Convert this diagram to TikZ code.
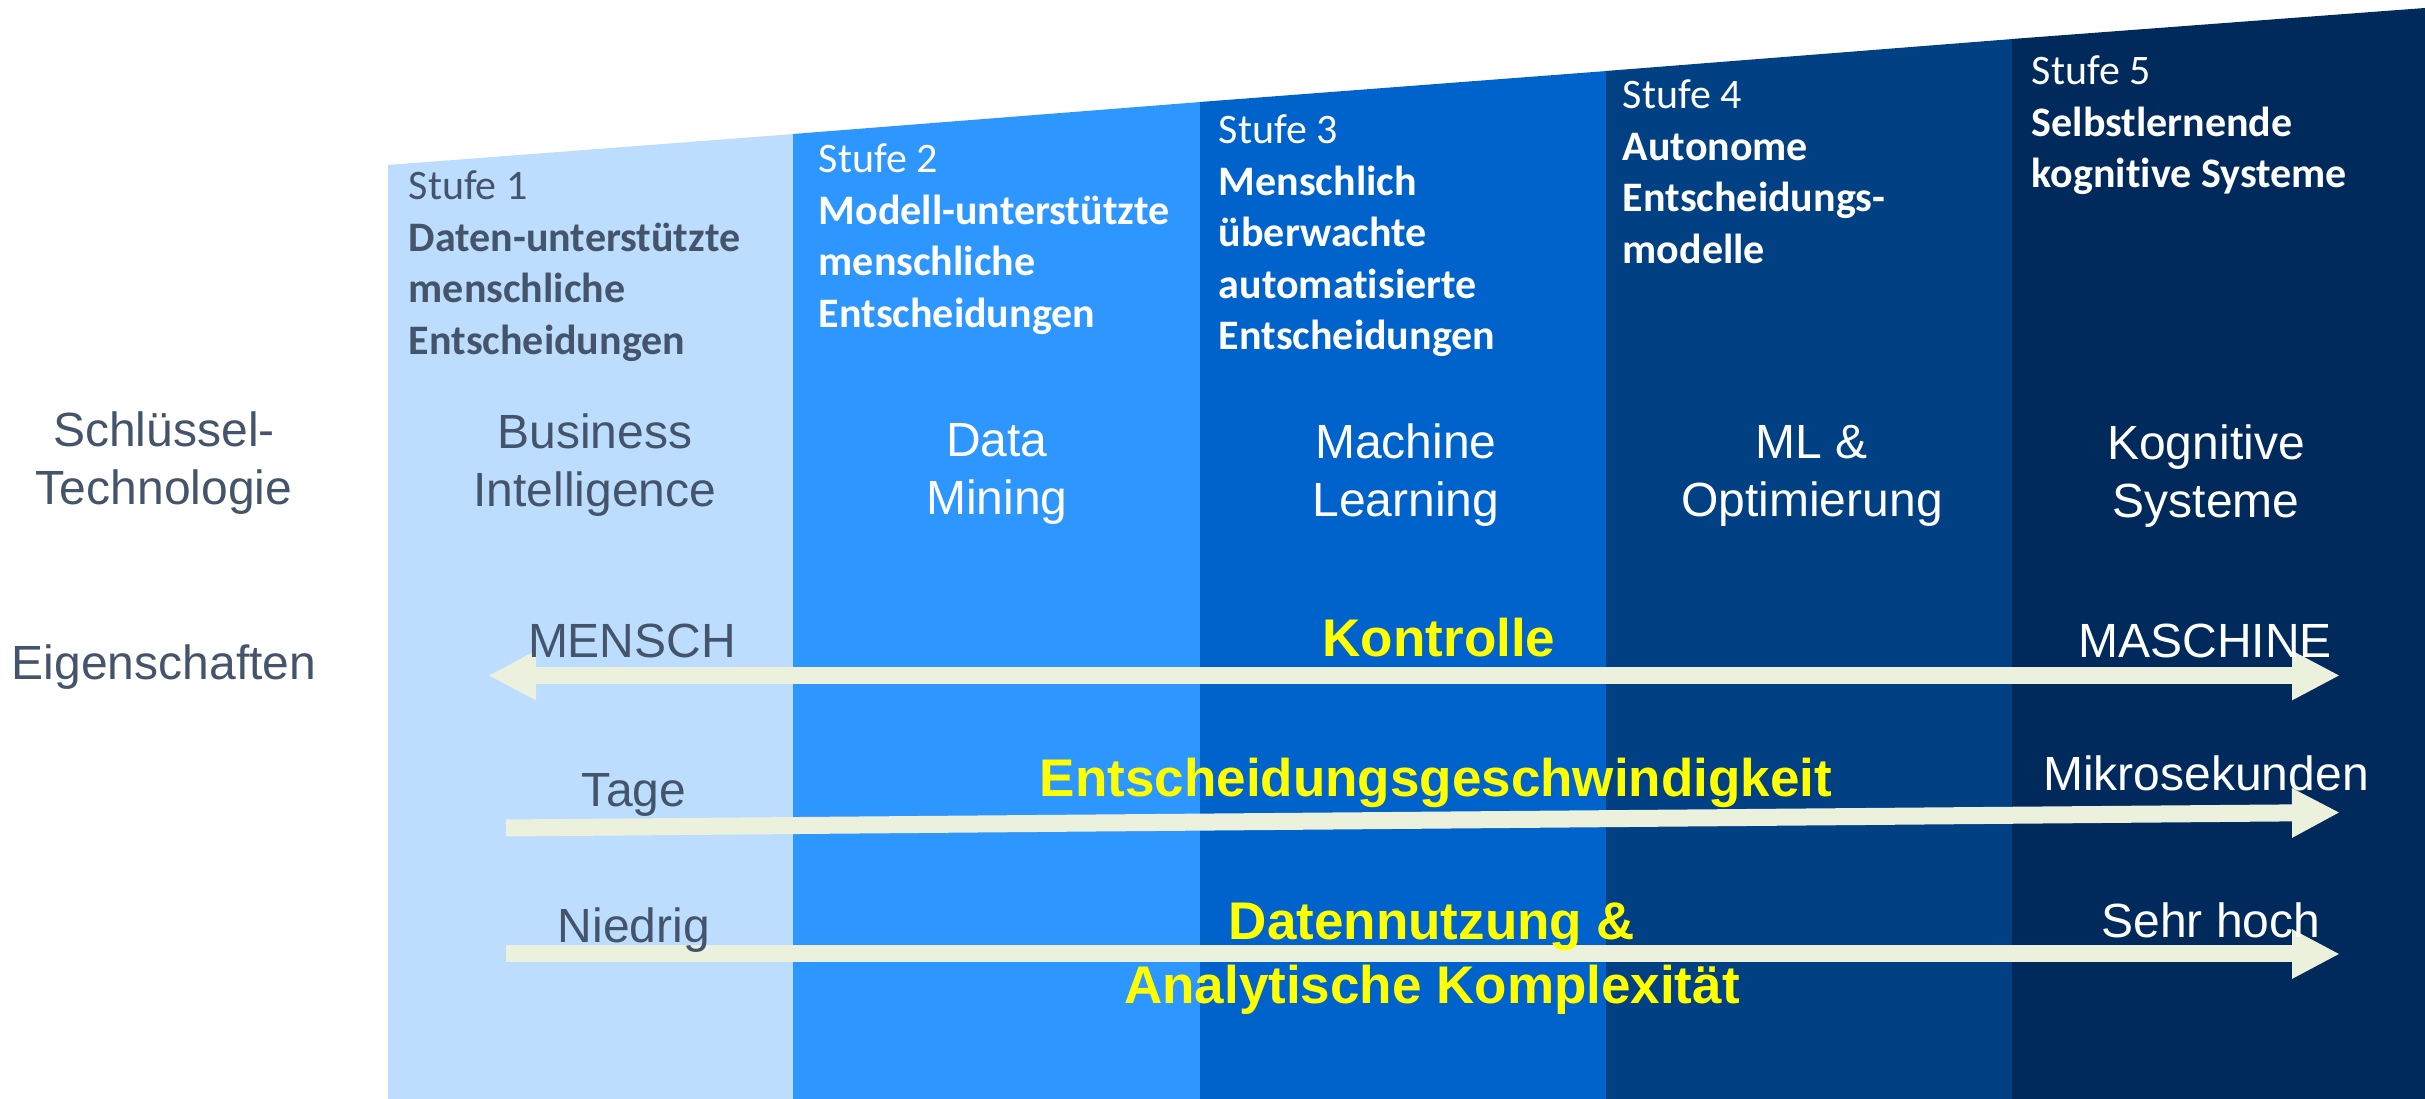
\documentclass[tikz,border=0pt]{standalone}
\usepackage{fontspec}
\setmainfont{Liberation Sans}
\newfontfamily\calibri[Ligatures=NoCommon]{Carlito}
\usetikzlibrary{arrows.meta}
\definecolor{cA}{RGB}{189,221,254}
\definecolor{cB}{RGB}{46,150,255}
\definecolor{cC}{RGB}{0,99,203}
\definecolor{cD}{RGB}{0,64,131}
\definecolor{cE}{RGB}{0,42,92}
\definecolor{darktext}{RGB}{68,84,106}
\definecolor{arrowc}{RGB}{235,241,220}
\definecolor{yel}{RGB}{255,255,0}
\newcommand\tabL[1]{\begin{tabular}[t]{@{}l@{}}#1\end{tabular}}
\newcommand\tabC[1]{\begin{tabular}[t]{@{}c@{}}#1\end{tabular}}
\begin{document}
\begin{tikzpicture}[x=0.25pt,y=-0.25pt,
  >={Triangle[length=12pt,width=11.5pt]},
  stufe/.style={anchor=base west, inner sep=0pt, text=white, font=\calibri\fontsize{10.5}{12.85}\selectfont},
  tech/.style={anchor=base, inner sep=0pt, text=white, font=\fontsize{12}{14.5}\selectfont},
  axislabel/.style={anchor=base, inner sep=0pt, text=yel, font=\bfseries\fontsize{13.25}{16}\selectfont},
  band/.style={line width=4.25pt, draw=arrowc}]
\useasboundingbox (0,0) rectangle (2425,1099);
% columns
\fill[cA] (388,165) -- (794,134) -- (794,1099) -- (388,1099) -- cycle;
\fill[cB] (793,134) -- (1201,102) -- (1201,1099) -- (793,1099) -- cycle;
\fill[cC] (1200,102) -- (1607,71) -- (1607,1099) -- (1200,1099) -- cycle;
\fill[cD] (1606,71) -- (2013,39) -- (2013,1099) -- (1606,1099) -- cycle;
\fill[cE] (2012,39) -- (2425,8) -- (2425,1099) -- (2012,1099) -- cycle;
% arrows (under the texts)
\coordinate (a1l) at (488,675.5);
\coordinate (a1r) at (2340,675.5);
\coordinate (a2l) at (506,828);
\coordinate (a2r) at (2340,812.5);
\coordinate (a3l) at (506,954);
\coordinate (a3r) at (2340,954);
\draw[band, <->] (a1l) -- (a1r);
\draw[band, ->] (a2l) -- (a2r);
\draw[band, ->] (a3l) -- (a3r);
% stage headers
\node[stufe, text=darktext] (s1) at (408,200) {\tabL{Stufe 1\\\textbf{Daten-unterstützte}\\\textbf{menschliche}\\\textbf{Entscheidungen}}};
\node[stufe] (s2) at (818,173) {\tabL{Stufe 2\\\textbf{Modell-unterstützte}\\\textbf{menschliche}\\\textbf{Entscheidungen}}};
\node[stufe] (s3) at (1218,144) {\tabL{Stufe 3\\\textbf{Menschlich}\\\textbf{überwachte}\\\textbf{automatisierte}\\\textbf{Entscheidungen}}};
\node[stufe] (s4) at (1622,109) {\tabL{Stufe 4\\\textbf{Autonome}\\\textbf{Entscheidungs-}\\\textbf{modelle}}};
\node[stufe] (s5) at (2031,85) {\tabL{Stufe 5\\\textbf{Selbstlernende}\\\textbf{kognitive Systeme}}};
% technologies
\node[tech, text=darktext] (t0) at (164,447) {\tabC{Schlüssel-\\Technologie}};
\node[tech, text=darktext] (t1) at (595,449) {\tabC{Business\\Intelligence}};
\node[tech] (t2) at (997,457) {\tabC{Data\\Mining}};
\node[tech] (t3) at (1406,459) {\tabC{Machine\\Learning}};
\node[tech] (t4) at (1812,459) {\tabC{ML \&\\Optimierung}};
\node[tech] (t5) at (2206,460) {\tabC{Kognitive\\Systeme}};
% properties
\node[tech, text=darktext] (e0) at (164,680) {Eigenschaften};
\node[tech, text=darktext] (m1) at (632,658) {MENSCH};
\node[tech] (m2) at (2205,658) {MASCHINE};
\node[axislabel] (k) at (1439,657) {Kontrolle};
\node[tech, text=darktext] (tg) at (634,807) {Tage};
\node[tech] (mk) at (2206,791) {Mikrosekunden};
\node[axislabel] (eg) at (1436,797) {Entscheidungsgeschwindigkeit};
\node[tech, text=darktext] (nd) at (634,943) {Niedrig};
\node[tech] (sh) at (2211,938) {Sehr hoch};
\node[axislabel] (dn) at (1432,940) {\tabC{Datennutzung \&\\Analytische Komplexität}};
\end{tikzpicture}
\end{document}
